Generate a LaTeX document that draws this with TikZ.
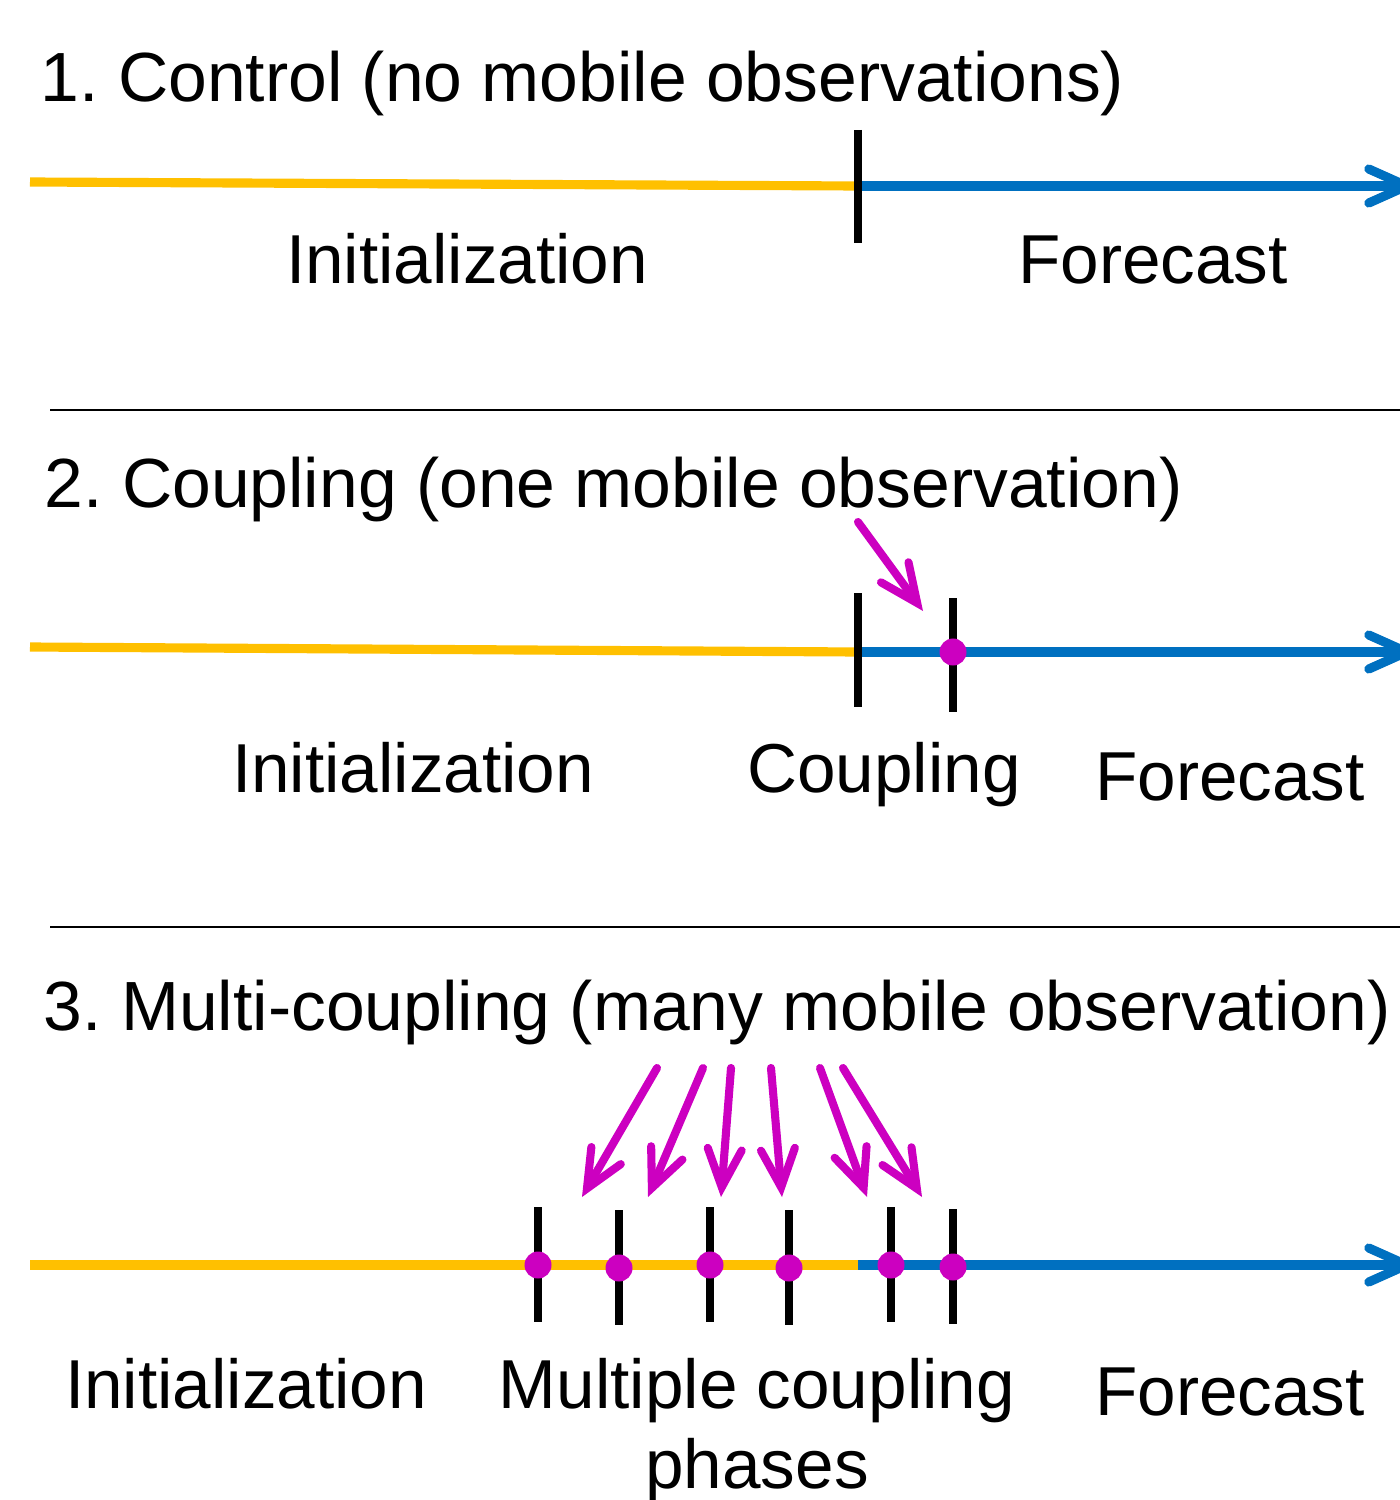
\documentclass[tikz,border=0pt]{standalone}
\usepackage{fontspec}
\setmainfont{Liberation Sans}
\frenchspacing
\usetikzlibrary{arrows.meta}
\definecolor{initcol}{RGB}{255,192,0}
\definecolor{fcstcol}{RGB}{0,112,192}
\definecolor{obscol}{RGB}{204,0,192}
\begin{document}
\begin{tikzpicture}[x=0.01cm,y=-0.01cm,
  every node/.style={inner sep=0pt,font=\fontsize{19.7pt}{22.7pt}\selectfont},
  title/.style={anchor=base west,font=\fontsize{19.8pt}{23pt}\selectfont},
  phase/.style={anchor=base,align=center},
  init/.style={initcol,line width=2.6pt},
  fcst/.style={fcstcol,line width=2.6pt,-{Straight Barb[length=3.8mm,width=3.4mm,line cap=round,line join=miter]}},
  tickmark/.style={line width=2.3pt},
  obs/.style={obscol,line width=2.3pt,line cap=round,-{Straight Barb[length=3.8mm,width=3.4mm,line cap=round,line join=miter]}},
  dot/.style={circle,fill=obscol,minimum size=2.7mm}]
\useasboundingbox (0,0) rectangle (1400,1500);

\node[title] (t1) at (40,102) {1. Control (no mobile observations)};
\coordinate (s1) at (30,182);
\coordinate (c1) at (858,186);
\coordinate (e1) at (1418,186);
\draw[init] (s1) -- (c1);
\draw[fcst] (c1) -- (e1);
\draw[tickmark] (c1) ++(0,-56) -- ++(0,113);
\node[phase] (i1) at (467,283) {Initialization};
\node[phase] (f1) at (1153,283) {Forecast};
\draw[line width=0.6pt] (50,410) -- (1400,410);

\node[title] (t2) at (44,507) {2. Coupling (one mobile observation)};
\coordinate (s2) at (30,647);
\coordinate (c2) at (858,652);
\coordinate (e2) at (1418,652);
\coordinate (o2) at (953,652);
\draw[init] (s2) -- (c2);
\draw[fcst] (c2) -- (e2);
\draw[tickmark] (c2) ++(0,-59) -- ++(0,114);
\draw[tickmark] (o2) ++(0,-54) -- ++(0,114);
\node[dot] (d2) at (o2) {};
\coordinate (a2) at (858,522);
\coordinate (b2) at (923,611);
\draw[obs] (a2) -- (b2);
\node[phase] (i2) at (413,792) {Initialization};
\node[phase] (p2) at (884,792) {Coupling};
\node[phase] (f2) at (1230,800) {Forecast};
\draw[line width=0.6pt] (50,927) -- (1400,927);

\node[title] (t3) at (43,1030) {3. Multi-coupling (many mobile observation)};
\coordinate (s3) at (30,1265);
\coordinate (c3) at (858,1265);
\coordinate (e3) at (1418,1265);
\draw[init] (s3) -- (c3);
\draw[fcst] (c3) -- (e3);
\foreach \x/\y [count=\k] in {538/1265,619/1268,710/1265,789/1268,891/1265,953/1267}{
  \coordinate (o\k) at (\x,\y);
  \draw[tickmark] (o\k) ++(0,-58) -- ++(0,115);
  \node[dot] (d\k) at (o\k) {};
}
\foreach \u/\v [count=\k] in {657/582,703/648,731/721,771/782,820/867,843/922}{
  \coordinate (a\k) at (\u,1068);
  \coordinate (b\k) at (\v,1197);
  \draw[obs] (a\k) -- (b\k);
}
\node[phase] (i3) at (246,1408) {Initialization};
\node[phase] (p3) at (757,1488) {Multiple coupling\\phases};
\node[phase] (f3) at (1230,1415) {Forecast};
\end{tikzpicture}
\end{document}
